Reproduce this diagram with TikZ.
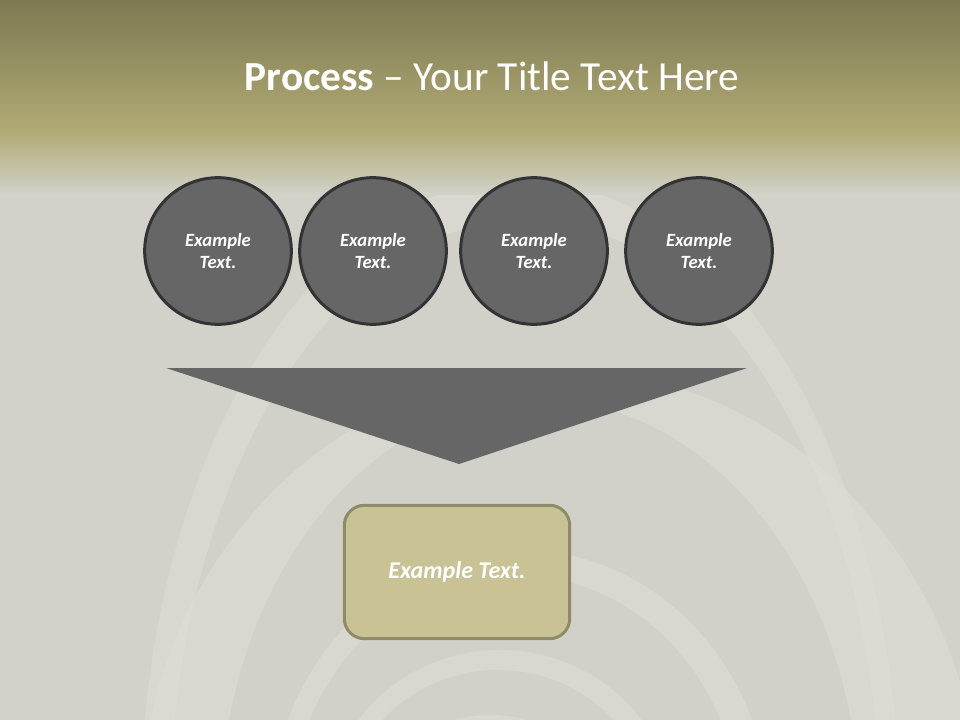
\documentclass[tikz,border=0pt]{standalone}
\usepackage{fontspec}
\setmainfont{Carlito}
\begin{document}
\begin{tikzpicture}[x=0.75pt,y=-0.75pt,
  stepcircle/.style={circle,draw=black!80,line width=2.25pt,fill=darkgray,
    minimum size=110pt,inner sep=0pt,align=center,text=white,
    font=\fontsize{14}{17}\selectfont\bfseries\itshape},
  resultbox/.style={rectangle,rounded corners=15pt,draw=boxedge,line width=2.25pt,
    fill=boxfill,minimum width=169pt,minimum height=100pt,text=white,
    font=\fontsize{18}{22}\selectfont\bfseries\itshape},
  funnel/.style={fill=darkgray,draw=none},
  ringL/.style={fill=ringlight,fill opacity=0.55},
  ringD/.style={fill=ringdark,fill opacity=0.7}]
\definecolor{darkgray}{HTML}{666666}
\definecolor{boxfill}{HTML}{C8C295}
\definecolor{boxedge}{HTML}{8F8A68}
\definecolor{bgbase}{HTML}{D2D2CA}
\definecolor{oliveTop}{HTML}{7D7A52}
\definecolor{oliveMid}{HTML}{B1AA75}
\definecolor{ringlight}{HTML}{DEDED6}
\definecolor{ringdark}{HTML}{CFCFC7}
\useasboundingbox (0,0) rectangle (960,720);
% background
\fill[bgbase] (0,0) rectangle (960,720);
\begin{scope}
\clip (0,0) rectangle (960,720);
\fill[ringL] (520,820) ellipse [x radius=380,y radius=640];
\fill[ringD] (525,820) ellipse [x radius=355,y radius=600];
\fill[ringL] (560,820) ellipse [x radius=420,y radius=450];
\fill[ringD] (540,820) ellipse [x radius=320,y radius=420];
\fill[ringL] (520,820) ellipse [x radius=250,y radius=270];
\fill[ringD] (515,820) ellipse [x radius=225,y radius=245];
\fill[ringL] (500,820) ellipse [x radius=175,y radius=170];
\fill[ringD] (498,820) ellipse [x radius=155,y radius=150];
\fill[ringL] (490,820) ellipse [x radius=120,y radius=105];
\fill[ringD] (490,820) ellipse [x radius=100,y radius=88];
\end{scope}
\shade[top color=oliveTop,bottom color=oliveMid] (0,0) rectangle (960,132);
\shade[top color=oliveMid,bottom color=bgbase] (0,131) rectangle (960,195);
% title
\node[text=white,font=\fontsize{31}{37}\selectfont] (title) at (492,76)
  {\textbf{Process} – Your Title Text Here};
% circles
\node[stepcircle] (c1) at (218,251) {Example\\Text.};
\node[stepcircle] (c2) at (373,251) {Example\\Text.};
\node[stepcircle] (c3) at (534,251) {Example\\Text.};
\node[stepcircle] (c4) at (699,251) {Example\\Text.};
% funnel
\coordinate (fl) at (166,368);
\coordinate (fr) at (747,368);
\coordinate (ft) at (459,464);
\fill[funnel] (fl) -- (fr) -- (ft) -- cycle;
% result box
\node[resultbox] (res) at (457,572) {Example Text.};
\end{tikzpicture}
\end{document}
